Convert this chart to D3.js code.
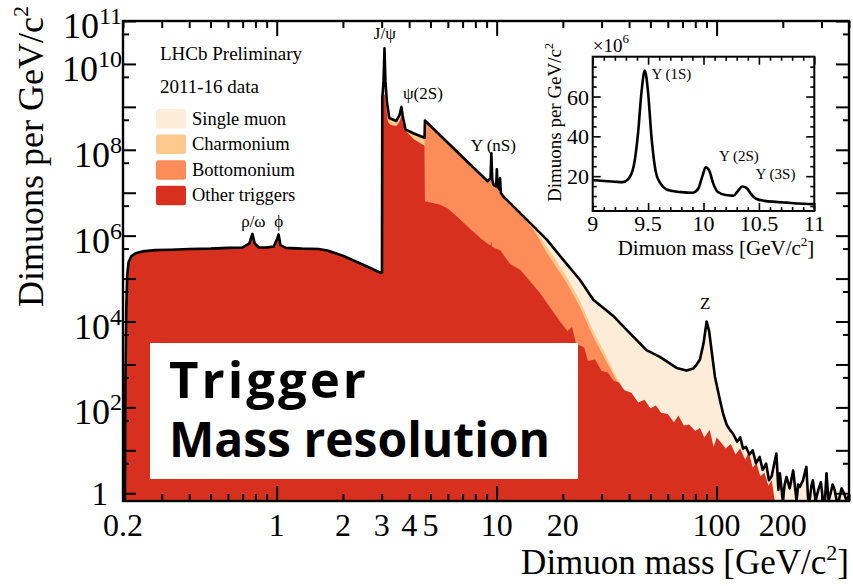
<!DOCTYPE html>
<html><head><meta charset="utf-8">
<script src="https://cdn.jsdelivr.net/npm/d3@7"></script>
<style>body{margin:0;background:#fff}svg{display:block}</style>
</head><body>
<svg id="c" width="853" height="586"></svg>
<script>
// ---------------- DATA ----------------
// Cumulative upper edges of each stacked trigger category: [mass GeV, dimuons per GeV]
const totalCurve = [[0.2,0.5],[0.204,0.5],[0.205,300],[0.207,2e4],[0.209,1.2e5],[0.212,2.4e5],[0.218,3.3e5],[0.228,3.9e5],[0.245,4.3e5],[0.28,4.6e5],[0.33,4.7e5],[0.4,4.9e5],[0.5,5.0e5],[0.6,5.2e5],[0.7,5.3e5],[0.75,6.5e5],[0.775,1.1e6],[0.795,6.5e5],[0.83,5.3e5],[0.9,5.3e5],[0.97,5.6e5],[1.0,8e5],[1.02,1.07e6],[1.04,6e5],[1.1,5.2e5],[1.3,5.0e5],[1.55,4.9e5],[1.7,4.5e5],[2.0,3.4e5],[2.5,2.05e5],[2.98,1.35e5],[3.01,1.4e5],[3.02,1.6e9],[3.06,4e9],[3.09,2.3e10],[3.12,4e9],[3.17,1.3e9],[3.25,5.5e8],[3.5,4.7e8],[3.62,6.5e8],[3.69,1.0e9],[3.74,6e8],[3.85,3.0e8],[4.2,2.4e8],[4.7,1.9e8],[4.72,4.8e8],[6,1.46e8],[7.5,4.8e7],[9.1,1.85e7],[9.38,2.2e7],[9.46,8.3e7],[9.55,2e7],[9.7,1.5e7],[9.95,1.4e7],[10.02,3.5e7],[10.1,1.4e7],[10.3,1.2e7],[10.36,2.2e7],[10.45,1.0e7],[10.7,8.3e6],[13,3.1e6],[16.9,8.1e5],[20,2.8e5],[23.9,9.4e4],[27.5,3.2e4],[33.9,1.35e4],[39,6.4e3],[48,2.15e3],[55.2,1.5e3],[65.8,830],[73,720],[78.3,800],[81,980],[84,1300],[87.2,3100],[90.1,1e4],[92.5,6000],[94.8,2200],[98.3,520],[103.5,150],[107,72],[111,40],[115,30],[119,24],[124,16],[128,20],[132,11],[136,12],[141,8],[146,10],[151,5],[157,7],[162,3.5],[168,4.9],[173,2],[178,2.5],[183,5],[187,8.4],[191,1.2],[194,2.9],[200,0.5],[204,1.6],[208,2.4],[215,1.3],[223,3.4],[231,0.5],[235,1.6],[239,1.4],[247,2],[256,4.1],[261,0.5],[265,0.7],[270,1.5],[274,2.0],[282,0.5],[290,1.2],[298,1.8],[305,0.6],[311,0.5],[316,2.9],[323,0.5],[330,1.0],[337,1.6],[344,1.2],[352,0.5],[360,0.7],[370,1.3],[380,1.0],[390,0.5],[400,0.9]];

const charmoniumTop = [[3.01,1.4e5],[3.02,1.6e9],[3.06,4e9],[3.09,2.3e10],[3.12,4e9],[3.17,1.3e9],[3.25,5.3e8],[3.5,4.6e8],[3.62,6.3e8],[3.69,9.8e8],[3.74,5.8e8],[3.85,2.9e8],[4.2,2.3e8],[4.7,1.85e8],[4.72,4.7e8],[10.7,8e6],[13,3.05e6],[15,1.4e6],[16.9,5.5e5],[18.5,2.8e5],[20.8,1.1e5],[23.9,3e4],[27.5,6e3],[31.6,1.5e3],[35.1,500],[38,260],[40,205]];

const bottomoniumTop = [[4.7,1.24e8],[4.72,4.7e8],[6,1.43e8],[7.5,4.7e7],[9.1,1.8e7],[9.38,2.1e7],[9.46,8e7],[9.55,1.9e7],[9.7,1.45e7],[9.95,1.35e7],[10.02,3.3e7],[10.1,1.35e7],[10.3,1.15e7],[10.36,2.1e7],[10.45,9.6e6],[10.7,8e6],[13,2.9e6],[15,1.2e6],[16.9,4e5],[18.5,2e5],[20.8,8e4],[23.9,2.2e4],[27.5,4.4e3],[31.6,1.15e3],[35.1,430],[38,250],[40,200]];

const otherTop = [[0.2,0.5],[0.204,0.5],[0.205,300],[0.207,2e4],[0.209,1.2e5],[0.212,2.4e5],[0.218,3.3e5],[0.228,3.9e5],[0.245,4.3e5],[0.28,4.6e5],[0.33,4.7e5],[0.4,4.9e5],[0.5,5.0e5],[0.6,5.2e5],[0.7,5.3e5],[0.75,6.5e5],[0.775,1.1e6],[0.795,6.5e5],[0.83,5.3e5],[0.9,5.3e5],[0.97,5.6e5],[1.0,8e5],[1.02,1.07e6],[1.04,6e5],[1.1,5.2e5],[1.3,5.0e5],[1.55,4.9e5],[1.7,4.5e5],[2.0,3.4e5],[2.5,2.05e5],[2.98,1.35e5],[3.01,1.35e5],[3.02,1.2e9],[3.07,1.96e9],[3.1,1.9e9],[3.14,1.0e9],[3.2,4.5e8],[3.3,3.8e8],[3.5,3.6e8],[3.62,4.5e8],[3.69,6.2e8],[3.75,4e8],[3.85,2.8e8],[4.2,1.76e8],[4.7,1.24e8],[4.72,6.3e6],[5.5,5.3e6],[6.0,4.3e6],[6.6,2.8e6],[7.5,1.5e6],[8.5,8.5e5],[9.3,6e5],[9.4,6e5],[9.46,7.5e5],[9.52,5.5e5],[10.4,4.5e5],[11.5,2.2e5],[12.8,1.6e5],[15.7,4.7e4],[19.4,1.0e4],[21,6e3],[22,7.5e3],[23,3e3],[25,2.5e3],[26,1.2e3],[28,1.3e3],[30,700],[32,650],[34,420],[36,380],[38,250],[41,220],[44,130],[47,150],[50,95],[53,110],[56,75],[60,70],[64,45],[67,65],[71,38],[75,40],[80,28],[84,33],[88,20],[93,30],[97,12],[100,20],[105,15],[110,11],[116,14],[122,8],[128,11],[135,6],[140,9],[146,4],[152,5],[158,2.5],[165,3],[172,1.5],[178,2],[184,0.5],[400,0.5]];

// Inset: Upsilon region, linear scale (x10^6)
const insetMass = [9.0,9.1,9.2,9.27,9.32,9.37,9.41,9.44,9.47,9.5,9.53,9.57,9.61,9.66,9.72,9.8,9.9,9.95,9.99,10.02,10.05,10.09,10.13,10.2,10.27,10.31,10.35,10.39,10.43,10.48,10.55,10.65,10.75,10.85,10.95,11.0];
const insetCounts = [18,17.6,17.2,17.0,18.5,25,42,62,73,62,40,22,16.5,13.5,12.5,12,11.7,13.5,20,24.5,23,16,12,10.5,10.2,12.5,14.8,14,11,8.5,7.6,7.1,6.7,6.3,6.0,5.9];

const legendNames = ["Single muon","Charmonium","Bottomonium","Other triggers"];
const legendColors = ["#fdecd7","#fdc98c","#fc8d59","#d7301f"];
const xTickLabels = [0.2,1,2,3,4,5,10,20,100,200];
const yLabelPowers = [0,2,4,6,8,10,11];
const peakLabels = [{t:"ρ/ω",m:0.783,v:1.59e6},{t:"ϕ",m:1.02,v:1.59e6},{t:"J/ψ",m:3.1,v:3.8e10},{t:"ψ(2S)",m:4.62,v:1.53e9},{t:"Υ (nS)",m:9.66,v:9.4e7},{t:"Z",m:88.7,v:1.96e4}];
const insetXTicks = [9,9.5,10,10.5,11];
const insetYTicks = [20,40,60];
const insetPeaks = [{t:"Υ (1S)",m:9.53,v:69},{t:"Υ (2S)",m:10.14,v:27.5},{t:"Υ (3S)",m:10.47,v:18.5}];

// ---------------- DRAWING ----------------
const svg = d3.select("#c");
const serif = "'Liberation Serif','Times New Roman',serif";
const L=123, R=849, T=21, B=501;
const x = d3.scaleLog().domain([0.2,400]).range([L,R]);
const y = d3.scaleLog().domain([0.66,1e11]).range([B,T]).clamp(true);

svg.append("defs").append("clipPath").attr("id","pc").append("rect")
  .attr("x",L).attr("y",T).attr("width",R-L).attr("height",B-T);
const g = svg.append("g").attr("clip-path","url(#pc)");
const area = d3.area().x(d=>x(d[0])).y0(B).y1(d=>y(d[1]));
g.append("path").datum(totalCurve).attr("d",area).attr("fill",legendColors[0]);
g.append("path").datum(charmoniumTop).attr("d",area).attr("fill",legendColors[1]);
g.append("path").datum(bottomoniumTop).attr("d",area).attr("fill",legendColors[2]);
g.append("path").datum(otherTop).attr("d",area).attr("fill",legendColors[3]);
g.append("path").datum(totalCurve).attr("d",d3.line().x(d=>x(d[0])).y(d=>y(d[1])))
  .attr("fill","none").attr("stroke","#000").attr("stroke-width",2.6).attr("stroke-linejoin","round");

// ticks via d3 axes
const xTicks=[]; for(let d=-1; d<=2; d++) for(let k=1;k<=9;k++){const v=k*Math.pow(10,d); if(v>=0.2&&v<=400) xTicks.push(v);}
const isMajorX = v => Math.abs(Math.log10(v)-Math.round(Math.log10(v)))<1e-9;
function xAxisTicks(gen, ypos, sign){
  const a = svg.append("g").attr("transform",`translate(0,${ypos})`).call(gen.tickValues(xTicks).tickFormat("").tickSize(7));
  a.select(".domain").remove();
  a.selectAll(".tick line").attr("stroke","#000").attr("stroke-width",2)
    .attr("y2",d=> sign*(isMajorX(d)?15:7));
}
xAxisTicks(d3.axisTop(x),B,-1); xAxisTicks(d3.axisBottom(x),T,1);
const yTicks=[]; for(let n=0;n<=11;n++){yTicks.push(Math.pow(10,n)); if(n<11) yTicks.push(5*Math.pow(10,n));}
function yAxisTicks(gen, xpos, sign){
  const a = svg.append("g").attr("transform",`translate(${xpos},0)`).call(gen.tickValues(yTicks).tickFormat("").tickSize(6));
  a.select(".domain").remove();
  a.selectAll(".tick line").attr("stroke","#000").attr("stroke-width",2)
    .attr("x2",d=> sign*(String(d)[0]==="1"?13:6));
}
yAxisTicks(d3.axisRight(y),L,1); yAxisTicks(d3.axisLeft(y),R,-1);

svg.append("rect").attr("x",L).attr("y",T).attr("width",R-L).attr("height",B-T)
  .attr("fill","none").attr("stroke","#000").attr("stroke-width",2.4);

// x tick labels
svg.append("g").selectAll("text").data(xTickLabels).join("text")
  .attr("x",d=>x(d)).attr("y",536).attr("text-anchor","middle")
  .attr("font-family",serif).attr("font-size",32).text(d=>d);
// y tick labels
const yl = svg.append("g").selectAll("text").data(yLabelPowers).join("text")
  .attr("x",d=>d===0?108:122).attr("y",d=>y(Math.pow(10,d))+(d===0?12:17))
  .attr("text-anchor","end").attr("font-family",serif).attr("font-size",36);
yl.each(function(d){
  const t=d3.select(this);
  if(d===0){t.attr("font-size",33).text("1");return;}
  t.append("tspan").text("10");
  t.append("tspan").attr("font-size",24).attr("dy",-14).text(d);
});
// axis titles
const xt = svg.append("text").attr("x",849).attr("y",574).attr("text-anchor","end")
  .attr("font-family",serif).attr("font-size",35);
xt.append("tspan").text("Dimuon mass [GeV/c");
xt.append("tspan").attr("font-size",22).attr("dy",-14).text("2");
xt.append("tspan").attr("dy",14).text("]");
const yt = svg.append("text").attr("transform","translate(43,6) rotate(-90)").attr("text-anchor","end")
  .attr("font-family",serif).attr("font-size",36);
yt.append("tspan").text("Dimuons per GeV/c");
yt.append("tspan").attr("font-size",22).attr("dy",-15).text("2");

// peak labels
svg.append("g").selectAll("text").data(peakLabels).join("text")
  .attr("x",d=>x(d.m)).attr("y",d=>y(d.v)).attr("text-anchor","middle")
  .attr("font-family",serif).attr("font-size",17).text(d=>d.t);

// header + legend
svg.append("text").attr("x",160).attr("y",60).attr("font-family",serif).attr("font-size",19).text("LHCb Preliminary");
svg.append("text").attr("x",160).attr("y",93).attr("font-family",serif).attr("font-size",19).text("2011-16 data");
const lg = svg.append("g").selectAll("g").data(legendNames).join("g")
  .attr("transform",(d,i)=>`translate(156,${109+i*25.6})`);
lg.append("rect").attr("width",30).attr("height",19.5).attr("rx",2.5).attr("fill",(d,i)=>legendColors[i]);
lg.append("text").attr("x",36).attr("y",15.5).attr("font-family",serif).attr("font-size",18.5).text(d=>d);

// annotation box
svg.append("rect").attr("x",150).attr("y",343).attr("width",428).attr("height",136).attr("fill","#fff");
svg.append("text").attr("x",169).attr("y",398).attr("font-family","'Open Sans',sans-serif").attr("font-weight",700).attr("font-size",51)
  .attr("textLength",197).attr("lengthAdjust","spacing").text("Trigger");
svg.append("text").attr("x",169).attr("y",457).attr("font-family","'Open Sans',sans-serif").attr("font-weight",700).attr("font-size",48)
  .text("Mass resolution");

// ---------------- INSET ----------------
const iL=592.7, iR=814.3, iT=56.7, iB=211;
const ix = d3.scaleLinear().domain([9,11]).range([iL,iR]);
const iy = d3.scaleLinear().domain([2.5,80]).range([iB,iT]);
svg.append("rect").attr("x",iL).attr("y",iT).attr("width",iR-iL).attr("height",iB-iT).attr("fill","#fff");
svg.append("path").datum(d3.zip(insetMass,insetCounts))
  .attr("d",d3.line().x(d=>ix(d[0])).y(d=>iy(d[1])).curve(d3.curveMonotoneX))
  .attr("fill","none").attr("stroke","#000").attr("stroke-width",2.6);
const ixt = d3.range(9,11.0001,0.1);
const iyt = d3.range(5,80,5);
const majX = v => Math.abs(v*2-Math.round(v*2))<1e-6;
function itick(gen,tr,vals,isMaj,attr,sign){
  const a = svg.append("g").attr("transform",tr).call(gen.tickValues(vals).tickFormat("").tickSize(4));
  a.select(".domain").remove();
  a.selectAll(".tick line").attr("stroke","#000").attr("stroke-width",1.6).attr(attr,d=>sign*(isMaj(d)?8:4));
}
itick(d3.axisTop(ix),`translate(0,${iB})`,ixt,majX,"y2",-1);
itick(d3.axisBottom(ix),`translate(0,${iT})`,ixt,majX,"y2",1);
const majY = v => v%20===0;
itick(d3.axisRight(iy),`translate(${iL},0)`,iyt,majY,"x2",1);
itick(d3.axisLeft(iy),`translate(${iR},0)`,iyt,majY,"x2",-1);
svg.append("rect").attr("x",iL).attr("y",iT).attr("width",iR-iL).attr("height",iB-iT)
  .attr("fill","none").attr("stroke","#000").attr("stroke-width",2);
svg.append("g").selectAll("text").data(insetXTicks).join("text")
  .attr("x",d=>ix(d)).attr("y",231).attr("text-anchor","middle").attr("font-family",serif).attr("font-size",22).text(d=>d);
svg.append("g").selectAll("text").data(insetYTicks).join("text")
  .attr("x",589).attr("y",d=>iy(d)+8).attr("text-anchor","end").attr("font-family",serif).attr("font-size",22).text(d=>d);
const xm = svg.append("text").attr("x",iL).attr("y",52).attr("font-family",serif).attr("font-size",19);
xm.append("tspan").text("×10"); xm.append("tspan").attr("font-size",13).attr("dy",-9).text("6");
const ixt2 = svg.append("text").attr("x",iR).attr("y",255).attr("text-anchor","end").attr("font-family",serif).attr("font-size",21);
ixt2.append("tspan").text("Dimuon mass [GeV/c"); ixt2.append("tspan").attr("font-size",13).attr("dy",-9).text("2"); ixt2.append("tspan").attr("dy",9).text("]");
const iyt2 = svg.append("text").attr("transform","translate(561,43) rotate(-90)").attr("text-anchor","end").attr("font-family",serif).attr("font-size",19);
iyt2.append("tspan").text("Dimuons per GeV/c"); iyt2.append("tspan").attr("font-size",12).attr("dy",-8).text("2");
svg.append("g").selectAll("text").data(insetPeaks).join("text")
  .attr("x",d=>ix(d.m)).attr("y",d=>iy(d.v)).attr("text-anchor","start").attr("font-family",serif).attr("font-size",15).text(d=>d.t);
</script>
</body></html>
